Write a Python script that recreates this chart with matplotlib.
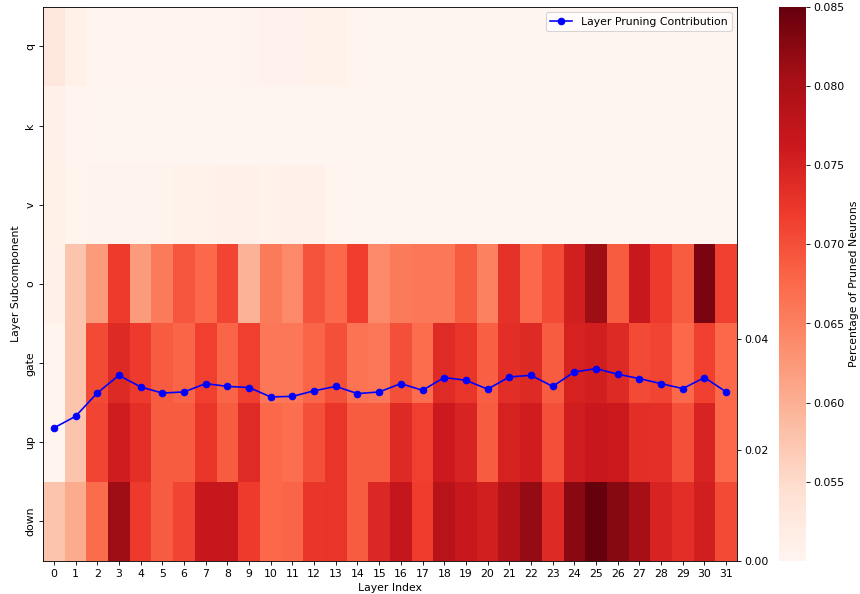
import numpy as np
import matplotlib
matplotlib.use("Agg")
import matplotlib.pyplot as plt
import seaborn as sns

# subcomponents (rows) and layer indices (columns)
components = ["q", "k", "v", "o", "gate", "up", "down"]
layers = list(range(32))

# percentage of pruned neurons per layer / subcomponent
q_vals = [0.0530, 0.0512, 0.0503, 0.0503, 0.0503, 0.0503, 0.0503, 0.0503,
          0.0503, 0.0505, 0.0506, 0.0506, 0.0508, 0.0508, 0.0504, 0.0501,
          0.0501, 0.0501, 0.0501, 0.0501, 0.0501, 0.0501, 0.0501, 0.0501,
          0.0501, 0.0501, 0.0501, 0.0501, 0.0501, 0.0501, 0.0501, 0.0501]
k_vals = [0.0510, 0.0502, 0.0501, 0.0501, 0.0501, 0.0501, 0.0501, 0.0501,
          0.0501, 0.0501, 0.0501, 0.0501, 0.0501, 0.0501, 0.0501, 0.0500,
          0.0500, 0.0500, 0.0500, 0.0500, 0.0500, 0.0500, 0.0500, 0.0500,
          0.0500, 0.0500, 0.0500, 0.0500, 0.0500, 0.0500, 0.0500, 0.0500]
v_vals = [0.0512, 0.0503, 0.0505, 0.0505, 0.0505, 0.0505, 0.0507, 0.0507,
          0.0509, 0.0510, 0.0508, 0.0509, 0.0510, 0.0503, 0.0501, 0.0501,
          0.0500, 0.0500, 0.0500, 0.0500, 0.0500, 0.0500, 0.0500, 0.0500,
          0.0500, 0.0500, 0.0500, 0.0500, 0.0500, 0.0500, 0.0500, 0.0500]
o_vals = [0.0510, 0.0577, 0.0623, 0.0720, 0.0623, 0.0658, 0.0693, 0.0675,
          0.0710, 0.0598, 0.0658, 0.0640, 0.0696, 0.0675, 0.0717, 0.0640,
          0.0658, 0.0660, 0.0660, 0.0690, 0.0650, 0.0730, 0.0675, 0.0705,
          0.0755, 0.0810, 0.0690, 0.0765, 0.0720, 0.0690, 0.0835, 0.0715]
gate_vals = [0.0503, 0.0577, 0.0705, 0.0740, 0.0720, 0.0690, 0.0680, 0.0715,
             0.0680, 0.0715, 0.0660, 0.0660, 0.0680, 0.0700, 0.0665, 0.0660,
             0.0700, 0.0672, 0.0738, 0.0728, 0.0685, 0.0735, 0.0740, 0.0690,
             0.0750, 0.0755, 0.0740, 0.0705, 0.0710, 0.0675, 0.0715, 0.0675]
up_vals = [0.0503, 0.0577, 0.0710, 0.0758, 0.0733, 0.0690, 0.0690, 0.0728,
           0.0690, 0.0738, 0.0675, 0.0670, 0.0700, 0.0728, 0.0690, 0.0690,
           0.0740, 0.0715, 0.0760, 0.0748, 0.0690, 0.0750, 0.0758, 0.0700,
           0.0757, 0.0765, 0.0763, 0.0735, 0.0733, 0.0700, 0.0748, 0.0675]
down_vals = [0.0577, 0.0605, 0.0673, 0.0810, 0.0720, 0.0690, 0.0710, 0.0767,
             0.0768, 0.0720, 0.0675, 0.0680, 0.0725, 0.0728, 0.0690, 0.0743,
             0.0770, 0.0718, 0.0785, 0.0765, 0.0755, 0.0790, 0.0818, 0.0740,
             0.0825, 0.0850, 0.0828, 0.0806, 0.0748, 0.0735, 0.0755, 0.0705]

# share of pruning per layer
layer_contrib = [0.0240, 0.0261, 0.0303, 0.0335, 0.0314, 0.0303, 0.0305, 0.0320,
                 0.0315, 0.0313, 0.0296, 0.0297, 0.0307, 0.0315, 0.0302, 0.0305,
                 0.0320, 0.0308, 0.0331, 0.0326, 0.0310, 0.0332, 0.0335, 0.0315,
                 0.0341, 0.0347, 0.0337, 0.0329, 0.0320, 0.0311, 0.0331, 0.0305]

data = np.array([q_vals, k_vals, v_vals, o_vals, gate_vals, up_vals, down_vals])

dpi = 860 / 11
fig = plt.figure(figsize=(11, 7.6), dpi=dpi)
ax = fig.add_axes([0.05, 0.0556, 0.807, 0.9327])
cax = fig.add_axes([0.9058, 0.0556, 0.0314, 0.9327])

sns.heatmap(data, cmap="Reds", vmin=0.050, vmax=0.085, ax=ax, cbar_ax=cax,
            xticklabels=layers, yticklabels=components,
            cbar_kws={"label": "Percentage of Pruned Neurons"})
ax.set_xlabel("Layer Index")
ax.set_ylabel("Layer Subcomponent")
ax.tick_params(axis="x", rotation=0)
ax.tick_params(axis="y", rotation=90)
for lbl in ax.get_yticklabels():
    lbl.set_va("center")
cax.set_yticks([0.055, 0.060, 0.065, 0.070, 0.075, 0.080, 0.085])

# line for per-layer contribution on a second y axis
ax2 = ax.twinx()
x = np.array(layers) + 0.5
ax2.plot(x, layer_contrib, color="blue", marker="o", markersize=6,
         linewidth=1.5, label="Layer Pruning Contribution")
ax2.set_ylim(0, 0.1)
ax2.set_yticks([0.0, 0.02, 0.04])
ax2.set_yticklabels(["0.00", "0.02", "0.04"])
ax2.legend(loc="upper right")

plt.savefig("out.png", dpi=dpi)
